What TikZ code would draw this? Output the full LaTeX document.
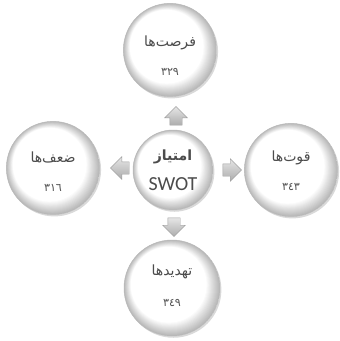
\documentclass[tikz,border=0pt]{standalone}
\usepackage{fontspec}
\setmainfont{Carlito}
\newfontfamily\arabicfont[Script=Arabic]{DejaVu Sans}
\newfontfamily\digitfont{DejaVu Sans}
\TeXXeTstate=1
\usetikzlibrary{
    positioning,
    shapes.arrows,
    shadows,
}
\tikzset{
    % Circle styles
    ball/.style={circle, draw=gray!55, line width=0.4pt, fill=white,
                 minimum size=2*#1, inner sep=0pt,
                 drop shadow={shadow xshift=1.2pt, shadow yshift=-1.5pt,
                              opacity=0.3, fill=gray},
                 path picture={
                     \foreach \i [evaluate=\i as \c using 56-4*\i,
                                  evaluate=\i as \s using 1-0.015*\i] in {0,...,14}
                         \fill[gray!\c] ([shift={(-\i*0.2pt,\i*0.2pt)}]path picture bounding box.center)
                             circle ({#1*\s});
                 }},
    ball/.default=14mm,
    core ball/.style={ball=12mm},
    % Arrow styles
    block arrow/.style={single arrow, draw=gray!75, shading=axis,
                        top color=gray!20, bottom color=gray!65,
                        minimum height=5.4mm, minimum width=6.6mm,
                        single arrow head extend=1.5mm, inner sep=1.8mm},
    % Text styles
    word/.style={font=\arabicfont\fontsize{12}{14}\selectfont, text=gray!60!black},
    count/.style={font=\digitfont\fontsize{9.5}{11}\selectfont, text=gray!65!black},
}

\begin{document}
\begin{tikzpicture}[x=0.3mm, y=-0.3mm]
    \useasboundingbox (0,0) rectangle (339,341);

    % Circles
    \node[ball] (opp) at (170,50) {};
    \node[ball] (wea) at (53,168) {};
    \node[ball] (str) at (291,170) {};
    \node[ball=14.4mm] (thr) at (172,288) {};
    \node[core ball] (core) at (173,170) {};

    % Block arrows
    \node[block arrow, shape border rotate=90] (up) at (176,119) {};
    \node[block arrow, shape border rotate=180] (left) at (123,168) {};
    \node[block arrow, shape border rotate=0] (right) at (229,170) {};
    \node[block arrow, shape border rotate=270] (down) at (174,224) {};

    % Labels
    \node[word, font=\arabicfont\bfseries\large] (corew) at (173,157) {\beginR امتیاز\endR};
    \node[font=\fontsize{17}{20}\selectfont, text=gray!60!black] (corel) at (173,184) {SWOT};

    \node[word] (oppw) at (170,43) {\beginR فرصت‌ها\endR};
    \node[count] (oppn) at (170,72) {٣٢٩};

    \node[word] (weaw) at (53,157) {\beginR ضعف‌ها\endR};
    \node[count] (wean) at (53,188) {٣١٦};

    \node[word] (strw) at (291,158) {\beginR قوت‌ها\endR};
    \node[count] (strn) at (291,187) {٣٤٣};

    \node[word] (thrw) at (172,272) {\beginR تهدیدها\endR};
    \node[count] (thrn) at (172,303) {٣٤٩};
\end{tikzpicture}
\end{document}
